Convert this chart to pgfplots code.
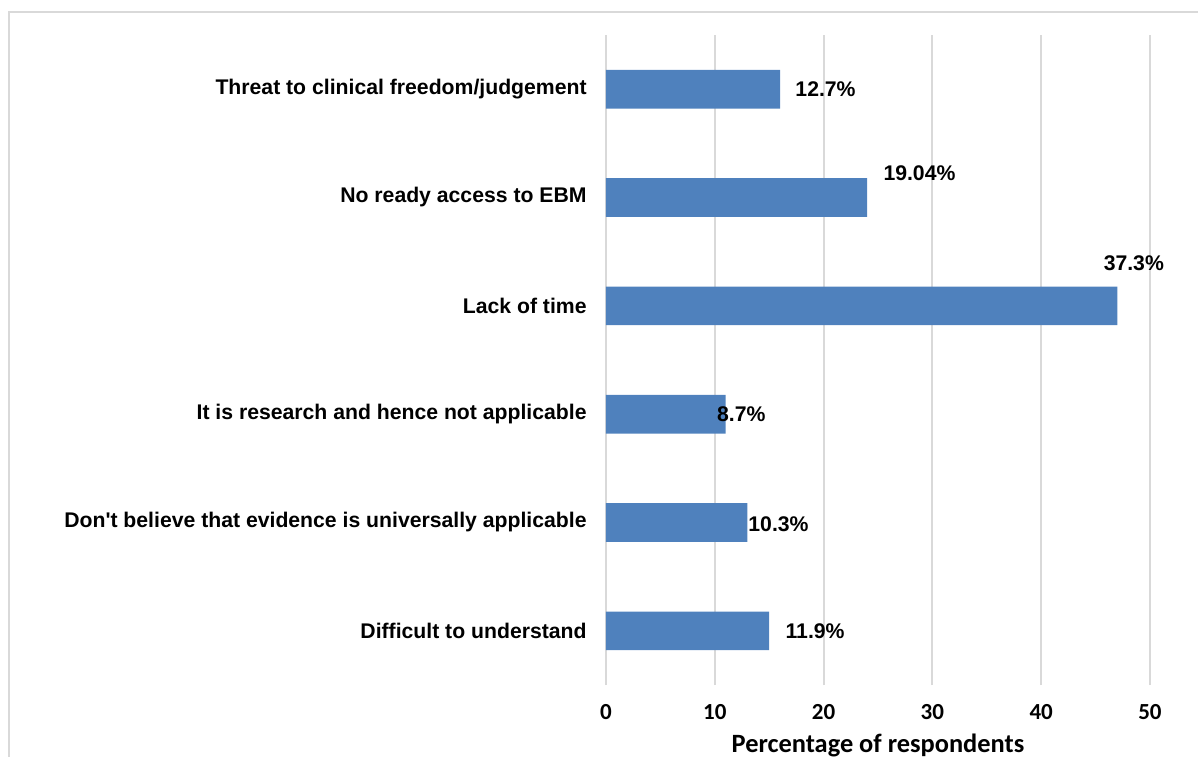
\documentclass[border=0pt]{standalone}
\usepackage{fontspec}
\setmainfont{Liberation Sans}
\newfontfamily\carlito{Carlito}
\usepackage{pgfplots}
\usepackage{pgfplotstable}
\pgfplotsset{compat=1.18}

\definecolor{barblue}{HTML}{4F81BD}
\definecolor{gridgray}{HTML}{D9D9D9}

% count = respondents (of 126); label = share in percent; dx/dy = label offsets in pt
\pgfplotstableread{
pos count label dx dy
0   15    11.9  8    0
1   13    10.3  0.3  -1
2   11    8.7   -4.5 0
3   47    37.3  -7   21.5
4   24    19.04 8    12
5   16    12.7  7.5  0
}\barriers

\begin{document}
\begin{tikzpicture}
\begin{axis}[
  at={(0,0)}, anchor=south west,
  scale only axis, width=272pt, height=325pt,
  xmin=0, xmax=50, ymin=-0.5, ymax=5.5,
  xtick={0,10,...,50}, ytick={0,...,5},
  yticklabels={Difficult to understand,
    Don\textquotesingle t believe that evidence is universally applicable,
    It is research and hence not applicable,
    Lack of time,
    No ready access to EBM,
    Threat to clinical freedom/judgement},
  xmajorgrids,
  major grid style={gridgray, line width=1pt},
  axis line style={draw=none},
  major tick length=0pt,
  tick style={draw=none},
  /pgf/number format/assume math mode=true,
  xticklabel style={font=\carlito\bfseries\fontsize{11.5}{13}\selectfont,
    anchor=center, inner sep=0pt, yshift=-13.5pt},
  yticklabel style={font=\bfseries\fontsize{10.6}{12}\selectfont,
    anchor=east, inner sep=0pt, xshift=-9.5pt},
  xlabel={Percentage of respondents},
  xlabel style={font=\carlito\bfseries\fontsize{13.2}{15}\selectfont,
    at={(axis description cs:0.5,0)}, anchor=base, inner sep=0pt, yshift=-33.5pt},
]
\addplot[xbar, bar width=0.357, fill=barblue, draw=none,
  point meta=explicit symbolic,
  nodes near coords={\pgfplotspointmeta\%},
  visualization depends on={\thisrow{dx} \as \dx},
  visualization depends on={\thisrow{dy} \as \dy},
  nodes near coords style={anchor=west, inner sep=0pt,
    xshift=\dx pt, yshift=\dy pt,
    font=\bfseries\fontsize{10.6}{12}\selectfont, text=black},
] table[x=count, y=pos, meta=label] {\barriers};
\end{axis}
% chart frame
\draw[gridgray, line width=1pt] (-298.5pt,-80pt) rectangle (330pt,336.5pt);
\pgfresetboundingbox
\path[use as bounding box] (-303pt,-35.5pt) rectangle (296pt,342.5pt);
\end{tikzpicture}
\end{document}
